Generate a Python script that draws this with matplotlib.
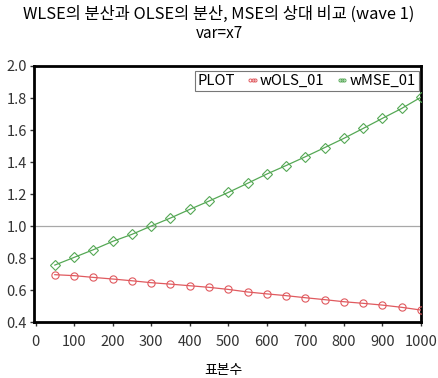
import matplotlib
matplotlib.use("Agg")
import matplotlib.pyplot as plt
from matplotlib.lines import Line2D

plt.rcParams['font.family'] = ['Noto Sans CJK KR', 'DejaVu Sans']

# Sample sizes and relative variance / MSE ratios
sample_size = [50, 100, 150, 200, 250, 300, 350, 400, 450, 500,
               550, 600, 650, 700, 750, 800, 850, 900, 950, 1000]
wols_01 = [0.696, 0.690, 0.679, 0.669, 0.658, 0.646, 0.637, 0.627, 0.617, 0.604,
           0.588, 0.576, 0.565, 0.552, 0.540, 0.527, 0.517, 0.506, 0.492, 0.475]
wmse_01 = [0.756, 0.804, 0.852, 0.904, 0.948, 1.000, 1.050, 1.104, 1.156, 1.210,
           1.267, 1.325, 1.378, 1.433, 1.490, 1.548, 1.610, 1.673, 1.735, 1.805]

x_ticks = [0, 100, 200, 300, 400, 500, 600, 700, 800, 900, 1000]
y_ticks = [0.4, 0.6, 0.8, 1.0, 1.2, 1.4, 1.6, 1.8, 2.0]

title = "WLSE의 분산과 OLSE의 분산, MSE의 상대 비교 (wave 1)"
subtitle = "var=x7"
xlabel = "표본수"

red = '#E05A5F'
green = '#55A855'

fig = plt.figure(figsize=(4.38, 3.78), dpi=100)
ax = fig.add_axes([0.0776, 0.148, 0.8836, 0.6774])

ax.axhline(1.0, color='#a8a8a8', lw=0.9, zorder=1)
ax.plot(sample_size, wols_01, color=red, lw=0.9, marker='o', ms=5.2,
        mfc='none', mec=red, mew=0.8, zorder=3)
ax.plot(sample_size, wmse_01, color=green, lw=0.9, marker='D', ms=4.6,
        mfc='none', mec=green, mew=0.8, zorder=3)

ax.set_xlim(-4, 1000)
ax.set_ylim(0.4, 2.0)
ax.set_xticks(x_ticks)
ax.set_yticks(y_ticks)
ax.set_yticklabels([f"{v:.1f}" for v in y_ticks])
ax.tick_params(axis='both', direction='out', length=3, width=1, labelsize=10.5,
               colors='#333333')
ax.tick_params(axis='x', pad=6)
ax.tick_params(axis='y', pad=2)
for s in ax.spines.values():
    s.set_linewidth(2)
    s.set_color('black')

ax.set_xlabel(xlabel, fontsize=10)
ax.xaxis.set_label_coords(0.49, -0.158)

fig.text(0.5, 0.962, title, ha='center', va='center', fontsize=11.8)
fig.text(0.5, 0.912, subtitle, ha='center', va='center', fontsize=11)

handles = [
    Line2D([], [], color='none', marker=None),
    Line2D([], [], color='none', lw=0, marker='o', ms=2.2, mfc='none', mec=red, mew=0.7),
    Line2D([], [], color='none', lw=0, marker='o', ms=2.2, mfc='none', mec=green, mew=0.7),
]
labels = ['PLOT', 'wOLS_01', 'wMSE_01']
leg = ax.legend(handles, labels, ncol=3, loc='upper right', numpoints=3,
                handlelength=0.9, handletextpad=0.05, columnspacing=0.7,
                fontsize=10.7, frameon=True, fancybox=False, borderpad=0.22,
                borderaxespad=0.0, bbox_to_anchor=(0.994, 0.982))
leg.get_frame().set_edgecolor('#555555')
leg.get_frame().set_linewidth(0.8)
# the first entry is a caption: hide its handle and give it no width
leg.legend_handles[0].set_visible(False)
first_entry = leg._legend_handle_box.get_children()[0].get_children()[0]
first_entry.get_children()[0].width = 0
first_entry.sep = 0

fig.savefig('out.png', dpi=100)
